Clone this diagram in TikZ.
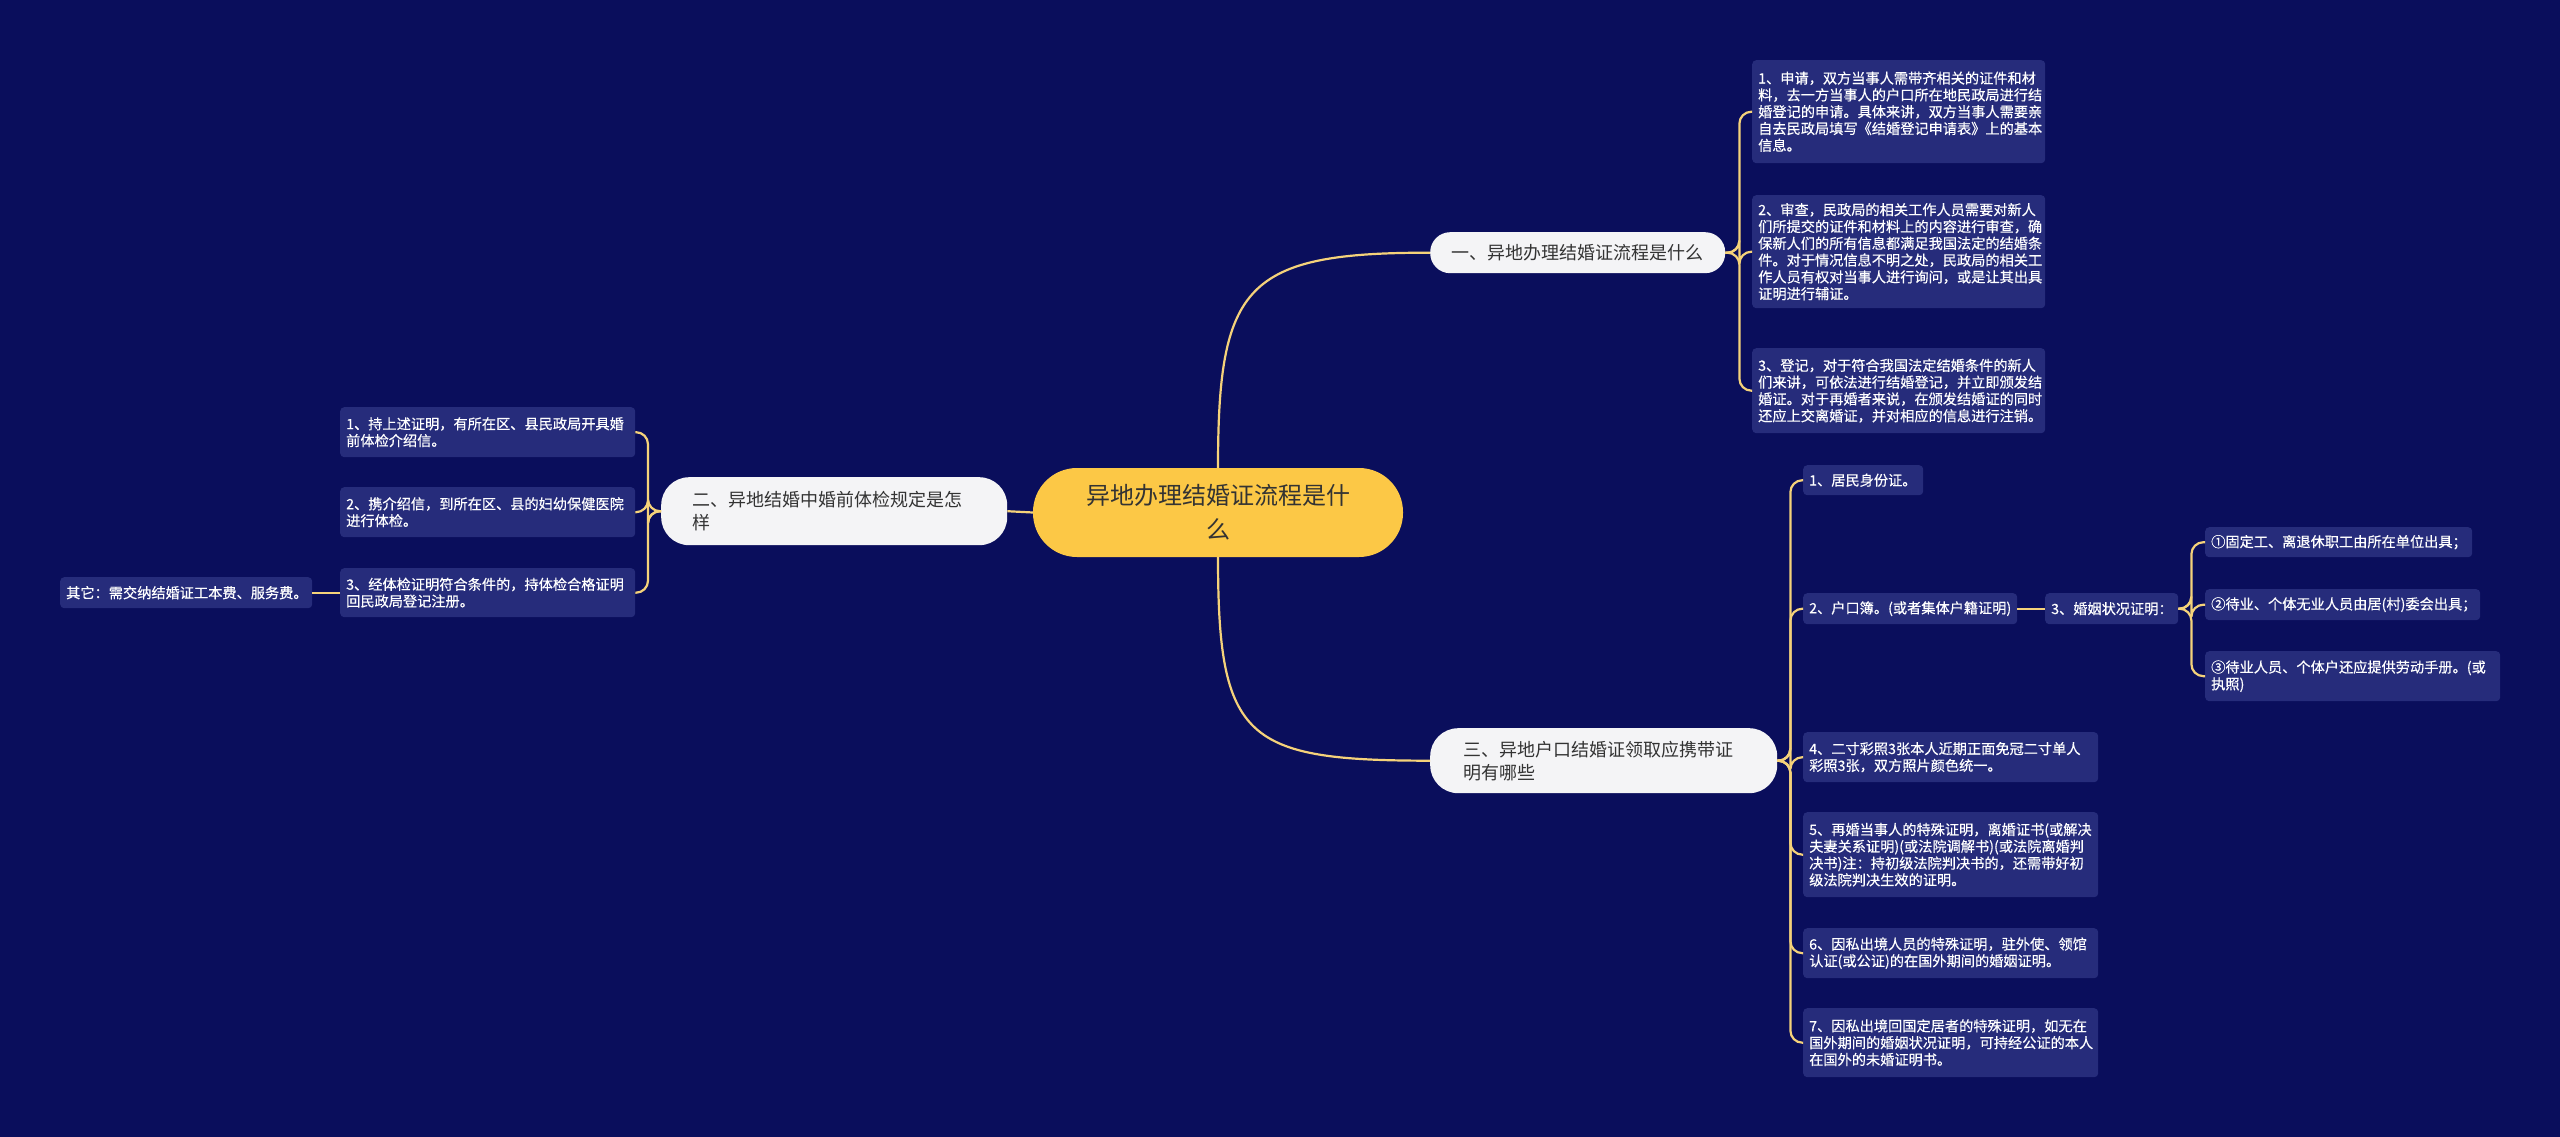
\documentclass[tikz,border=0pt]{standalone}
\usepackage{fontspec}
\newfontfamily\cjk{Noto Sans CJK SC}
\newfontfamily\cjkm[FakeBold=0.4]{Noto Sans CJK SC}
\definecolor{bgc}{HTML}{0A0E5C}
\definecolor{leafc}{HTML}{262C7B}
\definecolor{linec}{HTML}{F5D27A}
\definecolor{rootc}{HTML}{FCC846}
\definecolor{branchc}{HTML}{F4F4F6}
\definecolor{darktext}{HTML}{333333}
\begin{document}
\begin{tikzpicture}[x=1pt,y=-1pt,
  leaf/.style={fill=leafc, rounded corners=4pt, text=white,
    font=\cjkm\fontsize{14.2}{16.8}\selectfont, align=left,
    inner xsep=6pt, inner ysep=0pt, anchor=north west},
  branch/.style={fill=branchc, text=darktext, font=\cjk\fontsize{18}{23}\selectfont,
    align=left, inner ysep=0pt, anchor=north west},
  conn/.style={draw=linec, line width=2.2pt},
  bconn/.style={conn, rounded corners=12pt}]
\useasboundingbox (0,0) rectangle (2560,1137);
\fill[bgc] (0,0) rectangle (2560,1137);

% root
\node[fill=rootc, text=darktext, rounded corners=44pt, minimum width=370pt, minimum height=89pt,
  font=\cjk\fontsize{24}{34}\selectfont, align=center, inner sep=0pt] (c) at (1218,512.5)
  {异地办理结婚证流程是什\\么};

% branches
\node[branch, rounded corners=20pt, minimum width=295pt, minimum height=41pt, align=center, inner xsep=0pt] (b1) at (1430,232)
  {一、异地办理结婚证流程是什么};
\node[branch, rounded corners=28pt, text width=284pt, inner xsep=31pt, minimum height=68pt] (b2) at (661,477)
  {二、异地结婚中婚前体检规定是怎\\样};
\node[branch, rounded corners=28pt, text width=281pt, inner xsep=33pt, minimum height=65pt] (b3) at (1430,728)
  {三、异地户口结婚证领取应携带证\\明有哪些};

% branch 1 leaves
\node[leaf, text width=281pt, minimum height=103pt] (l1a) at (1752,60)
  {1、申请，双方当事人需带齐相关的证件和材\\料，去一方当事人的户口所在地民政局进行结\\婚登记的申请。具体来讲，双方当事人需要亲\\自去民政局填写《结婚登记申请表》上的基本\\信息。};
\node[leaf, text width=281pt, minimum height=113pt] (l1b) at (1752,195)
  {2、审查，民政局的相关工作人员需要对新人\\们所提交的证件和材料上的内容进行审查，确\\保新人们的所有信息都满足我国法定的结婚条\\件。对于情况信息不明之处，民政局的相关工\\作人员有权对当事人进行询问，或是让其出具\\证明进行辅证。};
\node[leaf, text width=281pt, minimum height=85pt] (l1c) at (1752,348)
  {3、登记，对于符合我国法定结婚条件的新人\\们来讲，可依法进行结婚登记，并立即颁发结\\婚证。对于再婚者来说，在颁发结婚证的同时\\还应上交离婚证，并对相应的信息进行注销。};

% branch 2 leaves
\node[leaf, text width=283pt, minimum height=50pt] (l2a) at (340,407)
  {1、持上述证明，有所在区、县民政局开具婚\\前体检介绍信。};
\node[leaf, text width=283pt, minimum height=50pt] (l2b) at (340,487)
  {2、携介绍信，到所在区、县的妇幼保健医院\\进行体检。};
\node[leaf, text width=283pt, minimum height=49pt] (l2c) at (340,568)
  {3、经体检证明符合条件的，持体检合格证明\\回民政局登记注册。};
\node[leaf, text width=240pt, minimum height=31pt] (l2d) at (60,577)
  {其它：需交纳结婚证工本费、服务费。};

% branch 3 leaves
\node[leaf, text width=108pt, minimum height=30pt] (l3a) at (1803,465) {1、居民身份证。};
\node[leaf, text width=202pt, minimum height=31pt] (l3b) at (1803,593) {2、户口簿。(或者集体户籍证明)};
\node[leaf, text width=121pt, minimum height=31pt] (l3m) at (2045,593) {3、婚姻状况证明：};
\node[leaf, text width=255pt, minimum height=30pt] (m1) at (2205,527) {①固定工、离退休职工由所在单位出具；};
\node[leaf, text width=263pt, minimum height=31pt] (m2) at (2205,589) {②待业、个体无业人员由居(村)委会出具；};
\node[leaf, text width=283pt, minimum height=50pt] (m3) at (2205,651) {③待业人员、个体户还应提供劳动手册。(或\\执照)};
\node[leaf, text width=283pt, minimum height=50pt] (l3d) at (1803,732)
  {4、二寸彩照3张本人近期正面免冠二寸单人\\彩照3张，双方照片颜色统一。};
\node[leaf, text width=283pt, minimum height=85pt] (l3e) at (1803,812)
  {5、再婚当事人的特殊证明，离婚证书(或解决\\夫妻关系证明)(或法院调解书)(或法院离婚判\\决书)注：持初级法院判决书的，还需带好初\\级法院判决生效的证明。};
\node[leaf, text width=283pt, minimum height=50pt] (l3f) at (1803,928)
  {6、因私出境人员的特殊证明，驻外使、领馆\\认证(或公证)的在国外期间的婚姻证明。};
\node[leaf, text width=283pt, minimum height=69pt] (l3g) at (1803,1008)
  {7、因私出境回国定居者的特殊证明，如无在\\国外期间的婚姻状况证明，可持经公证的本人\\在国外的未婚证明书。};

% connectors
\draw[conn] (c.west) -- (b2.east);
\draw[conn] (c.north) .. controls (1218,285) and (1245,252.5) .. (b1.west);
\draw[conn] (c.south) .. controls (1218,740) and (1245,760.5) .. (b3.west);
\foreach \n in {l1a,l1b,l1c} \draw[bconn] (b1.east) -- ++(14,0) |- (\n.west);
\foreach \n in {l2a,l2b,l2c} \draw[bconn] (b2.west) -- ++(-13,0) |- (\n.east);
\draw[conn] (l2c.west) -- (l2d.east);
\foreach \n in {l3a,l3b,l3d,l3e,l3f,l3g} \draw[bconn] (b3.east) -- ++(13,0) |- (\n.west);
\draw[conn] (l3b.east) -- (l3m.west);
\foreach \n in {m1,m2,m3} \draw[bconn] (l3m.east) -- ++(13,0) |- (\n.west);
\end{tikzpicture}
\end{document}
